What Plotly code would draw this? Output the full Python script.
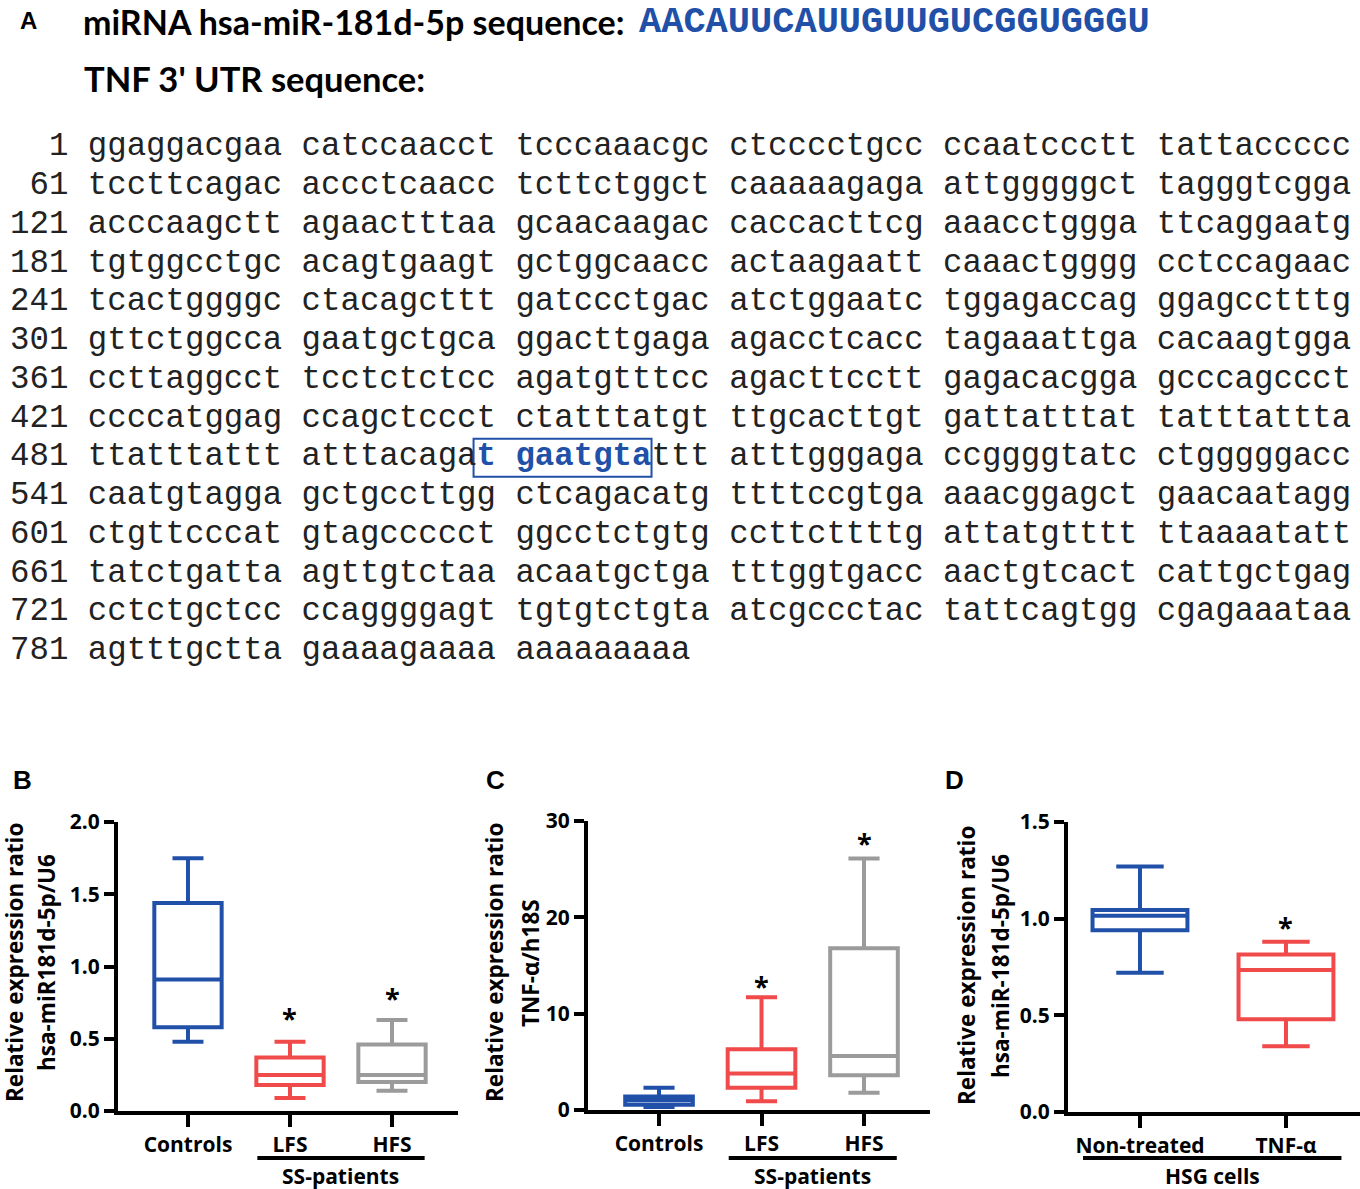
import plotly.graph_objects as go

W, H = 1360, 1189


def px(x):
    return x / W


def py(y):
    return 1 - y / H


SANS = "Open Sans"
MONO = "Liberation Mono"
BLUE = "#2150a8"
RED = "#f04a4a"
GRAY = "#9b9b9b"

# ---- panel A text ----
mirna_seq = "AACAUUCAUUGUUGUCGGUGGGU"
seq_starts = [1, 61, 121, 181, 241, 301, 361, 421, 481, 541, 601, 661, 721, 781]
seq_rows = [
    "ggaggacgaa catccaacct tcccaaacgc ctcccctgcc ccaatccctt tattaccccc",
    "tccttcagac accctcaacc tcttctggct caaaaagaga attgggggct tagggtcgga",
    "acccaagctt agaactttaa gcaacaagac caccacttcg aaacctggga ttcaggaatg",
    "tgtggcctgc acagtgaagt gctggcaacc actaagaatt caaactgggg cctccagaac",
    "tcactggggc ctacagcttt gatccctgac atctggaatc tggagaccag ggagcctttg",
    "gttctggcca gaatgctgca ggacttgaga agacctcacc tagaaattga cacaagtgga",
    "ccttaggcct tcctctctcc agatgtttcc agacttcctt gagacacgga gcccagccct",
    "ccccatggag ccagctccct ctatttatgt ttgcacttgt gattatttat tatttattta",
    "ttatttattt atttacagat gaatgtattt atttgggaga ccggggtatc ctgggggacc",
    "caatgtagga gctgccttgg ctcagacatg ttttccgtga aaacggagct gaacaatagg",
    "ctgttcccat gtagccccct ggcctctgtg ccttcttttg attatgtttt ttaaaatatt",
    "tatctgatta agttgtctaa acaatgctga tttggtgacc aactgtcact cattgctgag",
    "cctctgctcc ccaggggagt tgtgtctgta atcgccctac tattcagtgg cgagaaataa",
    "agtttgctta gaaaagaaaa aaaaaaaaa",
]
hl_row, hl_start, hl_end = 8, 20, 29  # binding site "t gaatgta"

# ---- panel B: hsa-miR-181d-5p in patients ----
groups_b = ["Controls", "LFS", "HFS"]
b_low = [0.48, 0.09, 0.14]
b_q1 = [0.58, 0.18, 0.20]
b_med = [0.91, 0.25, 0.25]
b_q3 = [1.44, 0.37, 0.46]
b_high = [1.75, 0.48, 0.63]
b_star = [None, 0.69, 0.83]

# ---- panel C: TNF-a in patients ----
groups_c = ["Controls", "LFS", "HFS"]
c_low = [0.3, 0.9, 1.8]
c_q1 = [0.55, 2.3, 3.6]
c_med = [1.0, 3.8, 5.6]
c_q3 = [1.4, 6.3, 16.8]
c_high = [2.3, 11.7, 26.1]
c_star = [None, 13.5, 28.4]

# ---- panel D: HSG cells ----
groups_d = ["Non-treated", "TNF-α"]
d_low = [0.72, 0.34]
d_q1 = [0.94, 0.48]
d_med = [1.015, 0.735]
d_q3 = [1.045, 0.815]
d_high = [1.27, 0.88]
d_star = [None, 0.99]

fig = go.Figure()

panels = [
    dict(ax="", groups=groups_b, low=b_low, q1=b_q1, med=b_med, q3=b_q3, high=b_high,
         star=b_star, colors=[BLUE, RED, GRAY], width=0.66, ww=0.46),
    dict(ax="2", groups=groups_c, low=c_low, q1=c_q1, med=c_med, q3=c_q3, high=c_high,
         star=c_star, colors=[BLUE, RED, GRAY], width=0.66, ww=0.46),
    dict(ax="3", groups=groups_d, low=d_low, q1=d_q1, med=d_med, q3=d_q3, high=d_high,
         star=d_star, colors=[BLUE, RED], width=0.65, ww=0.5),
]

annotations = []
for p in panels:
    for i, g in enumerate(p["groups"]):
        fig.add_trace(go.Box(
            x=[i], q1=[p["q1"][i]], median=[p["med"][i]], q3=[p["q3"][i]],
            lowerfence=[p["low"][i]], upperfence=[p["high"][i]],
            width=p["width"], whiskerwidth=p["ww"],
            line=dict(color=p["colors"][i], width=4),
            fillcolor="white", boxpoints=False, name=g, showlegend=False,
            xaxis="x" + p["ax"], yaxis="y" + p["ax"], hoverinfo="skip",
        ))
        if p["star"][i] is not None:
            annotations.append(dict(
                x=i, y=p["star"][i], xref="x" + p["ax"], yref="y" + p["ax"],
                text="*", showarrow=False, yshift=-6, yanchor="middle",
                font=dict(family=SANS, size=27, color="black", weight="bold"),
            ))

axis_common = dict(showline=True, linewidth=4, linecolor="black", ticks="outside",
                   tickwidth=4, tickcolor="black", showgrid=False, zeroline=False,
                   automargin=False, fixedrange=True,
                   tickfont=dict(family=SANS, size=21, color="black", weight="bold"))

fig.update_layout(
    width=W, height=H, autosize=False, margin=dict(l=0, r=0, t=0, b=0, autoexpand=False),
    paper_bgcolor="white", plot_bgcolor="white", boxmode="overlay", showlegend=False,
    xaxis=dict(domain=[px(118), px(458)], range=[-0.686, 2.647], tickvals=[0, 1, 2],
               ticktext=groups_b, ticklen=12, anchor="y", **axis_common),
    yaxis=dict(domain=[py(1111), py(822)], range=[0, 2.0], tickvals=[0, 0.5, 1.0, 1.5, 2.0],
               tickformat=".1f", ticklen=10, anchor="x", **axis_common),
    xaxis2=dict(domain=[px(588), px(930)], range=[-0.693, 2.644], tickvals=[0, 1, 2],
                ticktext=groups_c, ticklen=12, anchor="y2", **axis_common),
    yaxis2=dict(domain=[py(1110), py(821)], range=[0, 30], tickvals=[0, 10, 20, 30],
                ticklen=10, anchor="x2", **axis_common),
    xaxis3=dict(domain=[px(1068), px(1360)], range=[-0.493, 1.507], tickvals=[0, 1],
                ticktext=groups_d, ticklen=12, anchor="y3", **axis_common),
    yaxis3=dict(domain=[py(1112), py(822)], range=[0, 1.5], tickvals=[0, 0.5, 1.0, 1.5],
                tickformat=".1f", ticklen=10, anchor="x3", **axis_common),
)

bold_sans = dict(family=SANS, size=21, color="black", weight="bold")

# y axis titles (two lines each)
for x1, x2, yc, line2 in [(14, 46, 963, "hsa-miR181d-5p/U6"),
                          (494, 530, 963, "TNF-α/h18S"),
                          (966, 1000, 966, "hsa-miR-181d-5p/U6")]:
    for xx, txt in [(x1, "Relative expression ratio"), (x2, line2)]:
        annotations.append(dict(x=px(xx), y=py(yc), xref="paper", yref="paper", text=txt,
                                textangle=-90, showarrow=False, xanchor="center", yanchor="middle",
                                borderpad=0,
                                font=dict(family=SANS, size=22.5, color="black", weight="bold")))

# group brackets
shapes = []
for ax, xa, xb, xt, txt in [("x", 0.68, 2.32, 1.5, "SS-patients"),
                            ("x2", 0.68, 2.32, 1.5, "SS-patients"),
                            ("x3", -0.39, 1.38, 0.5, "HSG cells")]:
    shapes.append(dict(type="line", xref=ax, yref="paper", x0=xa, x1=xb,
                       y0=py(1158), y1=py(1158), line=dict(color="black", width=4)))
    annotations.append(dict(x=xt, y=py(1176), xref=ax, yref="paper", text=txt,
                            showarrow=False, yanchor="middle", font=bold_sans))

# panel letters
for xx, yy, letter, size in [(18, 20, "A", 24), (11, 780, "B", 26), (495, 780, "C", 26), (966, 780, "D", 26)]:
    annotations.append(dict(x=px(xx), y=py(yy), xref="paper", yref="paper", text=letter,
                            showarrow=False, yanchor="middle",
                            font=dict(family="Liberation Sans", size=size, color="black", weight="bold")))

# headings
annotations.append(dict(x=px(82), y=1, xref="paper", yref="paper", xanchor="left", yanchor="top",
                        borderpad=0, text="miRNA hsa-miR-181d-5p sequence:", showarrow=False,
                        font=dict(family="Lato", size=34, color="black", weight="bold")))
annotations.append(dict(x=px(638), y=1, xref="paper", yref="paper", xanchor="left", yanchor="top",
                        borderpad=0, text=mirna_seq, showarrow=False,
                        font=dict(family=MONO, size=37, color=BLUE, weight="bold")))
annotations.append(dict(x=px(82), y=py(79), xref="paper", yref="paper", xanchor="left", yanchor="middle",
                        text="TNF 3' UTR sequence:", showarrow=False,
                        font=dict(family="Lato", size=34.5, color="black", weight="bold")))

# sequence block
seq_size = 32.4
cw = 0.6 * seq_size
seq_x = 8
row_y0, row_dy = 147, 38.73
nb = "\u00a0"
for k, (start, row) in enumerate(zip(seq_starts, seq_rows)):
    prefix = f"{start:>3} "
    if k == hl_row:
        body = (row[:hl_start].replace(" ", nb)
                + f'<span style="color:{BLUE}"><b>' + row[hl_start:hl_end].replace(" ", nb) + "</b></span>"
                + row[hl_end:].replace(" ", nb))
    else:
        body = row.replace(" ", nb)
    annotations.append(dict(x=px(seq_x), y=py(row_y0 + k * row_dy), xref="paper", yref="paper",
                            xanchor="left", yanchor="middle", text=prefix.replace(" ", nb) + body,
                            showarrow=False, font=dict(family=MONO, size=seq_size, color="#222222")))

yc = row_y0 + 1 + hl_row * row_dy
shapes.append(dict(type="rect", xref="paper", yref="paper",
                   x0=px(seq_x + 1 + (4 + hl_start) * cw - 2), x1=px(seq_x + 1 + (4 + hl_end) * cw + 1),
                   y0=py(yc + 19), y1=py(yc - 19), line=dict(color=BLUE, width=2)))

fig.update_layout(annotations=annotations, shapes=shapes)

page_fix = ("document.body.style.margin='0';document.body.style.overflow='hidden';"
            "var g=document.getElementsByClassName('plotly-graph-div')[0];"
            "g.style.position='absolute';g.style.left='0px';g.style.top='0px';")
fig.write_html("out.html", config={"displayModeBar": False, "responsive": False}, post_script=page_fix)
